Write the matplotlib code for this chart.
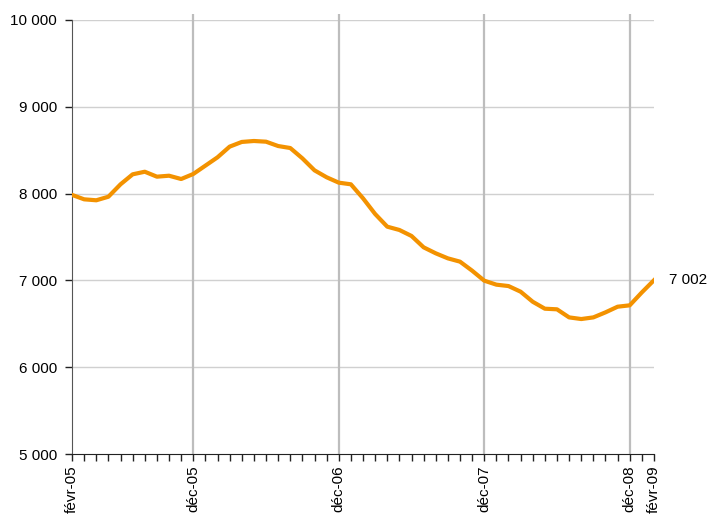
import matplotlib.pyplot as plt

plt.rcParams["font.family"] = ["Liberation Sans", "DejaVu Sans"]

# monthly values, févr-05 .. févr-09
values = [
    7985, 7934, 7923, 7964, 8107, 8222, 8252, 8195, 8206, 8168,
    8226, 8322, 8418, 8541, 8595, 8606, 8598, 8548, 8525, 8406,
    8268, 8188, 8126, 8107, 7946, 7765, 7619, 7581, 7512, 7381,
    7312, 7254, 7216, 7112, 6997, 6951, 6935, 6870, 6754, 6674,
    6667, 6574, 6555, 6574, 6632, 6697, 6713, 6862, 7002,
]
label_pos = [0, 10, 22, 34, 46, 48]
label_txt = ["févr-05", "déc-05", "déc-06", "déc-07", "déc-08", "févr-09"]
grid_pos = [10, 22, 34, 46]
y_ticks = [5000, 6000, 7000, 8000, 9000, 10000]

x = list(range(len(values)))

fig = plt.figure(figsize=(7.09, 5.15), dpi=100)
ax = fig.add_axes([0.1016, 0.1184, 0.8208, 0.8428])

ax.set_xlim(0, len(values) - 1)
ax.set_ylim(5000, 10000)

# horizontal grid
for yv in y_ticks[1:]:
    ax.axhline(yv, color="#d0d0d0", lw=1.0, zorder=1)
# vertical grid, slightly above the plot top
ax.vlines(grid_pos, 5000, 10070, colors="#bdbdbd", lw=1.6, zorder=1, clip_on=False)

ax.plot(x, values, color="#f39200", lw=3.0, solid_joinstyle="round", zorder=3)
ax.text(len(values) - 1 + 1.2, values[-1], "7 002", fontsize=11, va="center", ha="left")

ax.set_yticks(y_ticks)
ax.set_yticklabels([f"{v:,}".replace(",", " ") for v in y_ticks], fontsize=11)

ax.set_xticks(x)
labels = [""] * len(x)
for p, t in zip(label_pos, label_txt):
    labels[p] = t
ax.set_xticklabels(labels, rotation=90, fontsize=11)

ax.tick_params(axis="x", direction="out", length=5, width=1, color="#222222", pad=3)
ax.tick_params(axis="y", direction="out", length=5, width=1, color="#222222", pad=6)

for s in ["top", "right"]:
    ax.spines[s].set_visible(False)
ax.spines["left"].set_color("#555555")
ax.spines["bottom"].set_color("#222222")

fig.savefig("out.png", dpi=100)
